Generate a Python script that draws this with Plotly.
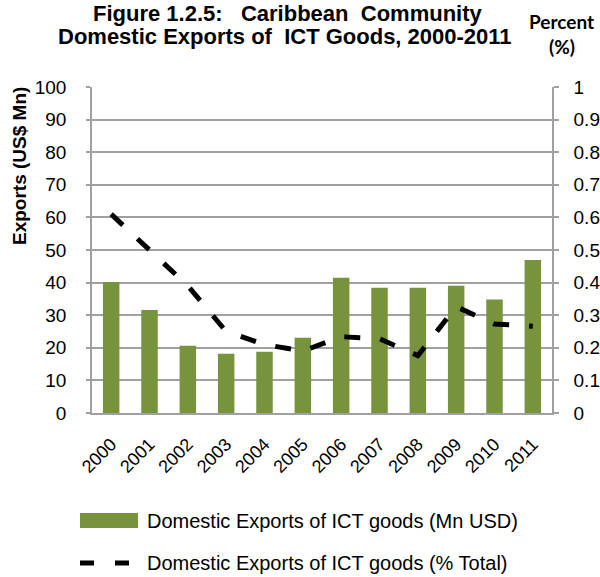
import plotly.graph_objects as go

years = ["2000", "2001", "2002", "2003", "2004", "2005",
         "2006", "2007", "2008", "2009", "2010", "2011"]
exports_mn_usd = [40.2, 31.6, 20.6, 18.2, 18.8, 23.1,
                  41.5, 38.4, 38.4, 39.0, 34.8, 46.9]
exports_pct_total = [0.61, 0.50, 0.39, 0.25, 0.21, 0.19,
                     0.234, 0.228, 0.176, 0.326, 0.273, 0.266]

left_ticks = list(range(0, 101, 10))
right_ticks = [0, 0.1, 0.2, 0.3, 0.4, 0.5, 0.6, 0.7, 0.8, 0.9, 1]
right_labels = ["0", "0.1", "0.2", "0.3", "0.4", "0.5", "0.6", "0.7", "0.8", "0.9", "1"]

title_line1 = "Figure 1.2.5:   Caribbean  Community"
title_line2 = "Domestic Exports of  ICT Goods, 2000-2011"
bar_name = "Domestic Exports of ICT goods (Mn USD)"
line_name = "Domestic Exports of ICT goods (% Total)"

SANS = "Liberation Sans, Arial, sans-serif"
GREEN = "#77933C"
GRID = "#A0A0A0"

# plot area in pixels
L, R, T, B = 92, 48, 87, 164
W, H = 600, 577
pw, ph = W - L - R, H - T - B

def px(x):
    return (x - L) / pw

def py(y):
    return (H - B - y) / ph

fig = go.Figure()
fig.add_trace(go.Bar(x=years, y=exports_mn_usd, name=bar_name,
                     marker=dict(color=GREEN, line=dict(width=0)),
                     showlegend=False))
fig.add_trace(go.Scatter(x=years, y=exports_pct_total, name=line_name,
                         yaxis="y2", mode="lines",
                         line=dict(color="black", width=5, dash="16px,20px"),
                         showlegend=False))

fig.update_layout(
    width=W, height=H,
    margin=dict(l=L, r=R, t=T, b=B, autoexpand=False),
    paper_bgcolor="white", plot_bgcolor="white",
    bargap=0.57,
    xaxis=dict(type="category", tickangle=-45, automargin=False,
               tickfont=dict(family=SANS, size=18, color="black"),
               showline=True, linecolor=GRID, linewidth=1.5,
               ticks="", showgrid=False, ticklabelstandoff=12),
    yaxis=dict(range=[0, 100], tickvals=left_ticks, automargin=False,
               tickfont=dict(family=SANS, size=19, color="black"),
               showgrid=True, gridcolor=GRID, gridwidth=1.5,
               showline=True, linecolor=GRID, linewidth=1.5,
               ticks="outside", ticklen=4, tickcolor=GRID, tickwidth=1.5,
               ticklabelstandoff=16, zeroline=False),
    yaxis2=dict(range=[0, 1], tickvals=right_ticks, ticktext=right_labels,
                overlaying="y", side="right", automargin=False,
                tickfont=dict(family=SANS, size=19, color="black"),
                showgrid=False,
                showline=True, linecolor=GRID, linewidth=1.5,
                ticks="outside", ticklen=5, tickcolor=GRID, tickwidth=1.5,
                ticklabelstandoff=11, zeroline=False),
)

annotations = [
    dict(text=title_line1, x=px(288), y=py(13), xanchor="center", yanchor="middle",
         font=dict(family=SANS, size=22, color="black", weight="bold")),
    dict(text=title_line2, x=px(285), y=py(36), xanchor="center", yanchor="middle",
         font=dict(family=SANS, size=22, color="black", weight="bold")),
    dict(text="Percent", x=px(561), y=py(21), xanchor="center", yanchor="middle",
         font=dict(family="Lato, sans-serif", size=19, color="black", weight="bold")),
    dict(text="(%)", x=px(562), y=py(46), xanchor="center", yanchor="middle",
         font=dict(family="Lato, sans-serif", size=19, color="black", weight="bold")),
    dict(text="Exports (US$ Mn)", x=px(19), y=py(166), xanchor="center", yanchor="middle",
         textangle=-90,
         font=dict(family=SANS, size=19, color="black", weight="bold")),
    dict(text=bar_name, x=px(145), y=py(521), xanchor="left", yanchor="middle",
         font=dict(family=SANS, size=20, color="black")),
    dict(text=line_name, x=px(145), y=py(563), xanchor="left", yanchor="middle",
         font=dict(family=SANS, size=20, color="black")),
]
for a in annotations:
    a.update(xref="paper", yref="paper", showarrow=False)
fig.update_layout(annotations=annotations)

fig.add_shape(type="rect", xref="paper", yref="paper",
              x0=px(80), x1=px(138), y0=py(528), y1=py(513),
              fillcolor=GREEN, line=dict(width=0))
fig.add_shape(type="line", xref="paper", yref="paper",
              x0=px(80), x1=px(130), y0=py(563), y1=py(563),
              line=dict(color="black", width=5, dash="14px,21px"))

fig.write_html("out.html", config={"displayModeBar": False},
               post_script="document.body.style.margin='0px';")
